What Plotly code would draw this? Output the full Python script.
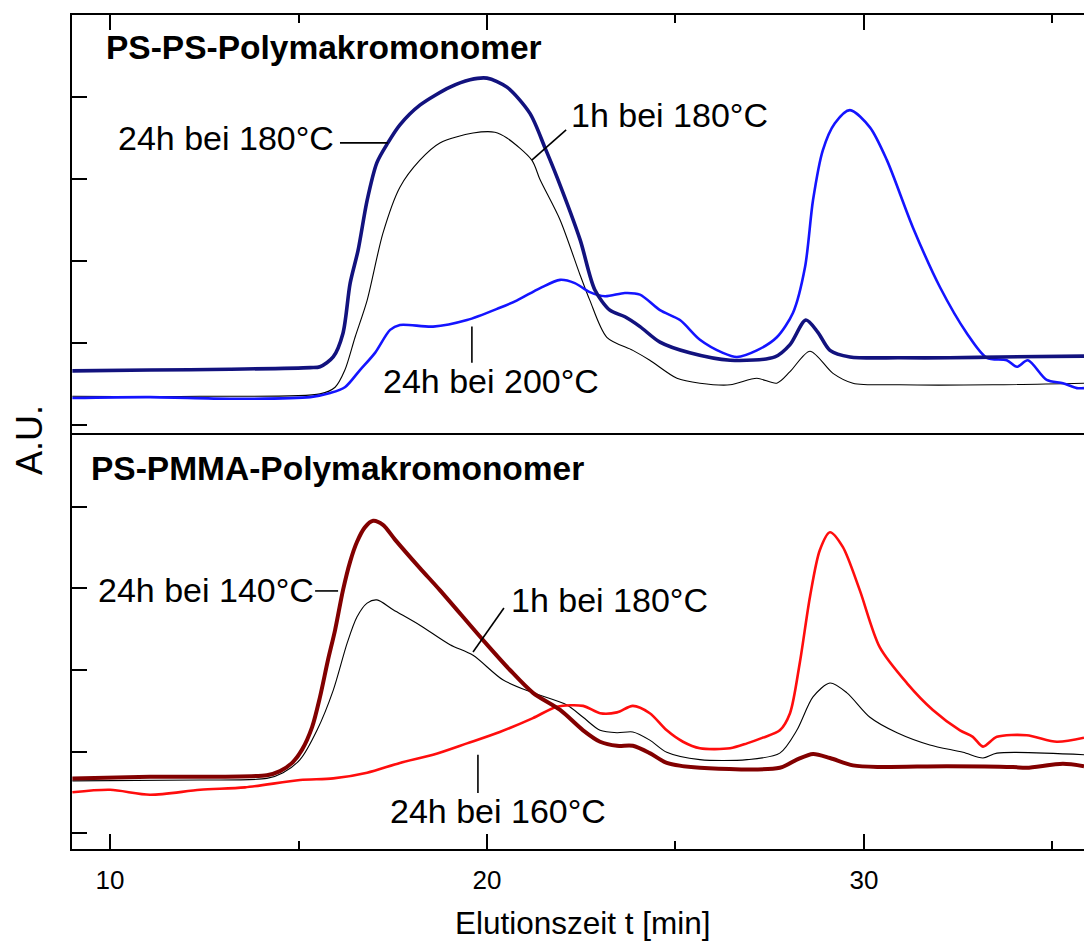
import plotly.graph_objects as go

# ---------------- data ----------------
# Upper panel: PS-PS-Polymakromonomer
ps_24h180_t = [9.0, 11.06, 13.18, 15.31, 15.57, 15.92, 16.18, 16.37, 16.58, 16.82, 17.08, 17.37, 17.69,
               18.22, 19.02, 19.55, 20.0, 20.53, 21.14, 21.54, 21.86, 22.47, 22.86, 23.26, 23.66,
               24.06, 24.59, 25.38, 26.45, 27.64, 28.04, 28.46, 28.78, 29.10, 29.63, 30.95, 32.28, 33.61, 35.84]
ps_24h180_y = [0.66, 0.67, 0.68, 0.70, 0.71, 0.83, 1.12, 1.73, 2.13, 2.74, 3.20, 3.44, 3.66,
               3.90, 4.12, 4.21, 4.23, 4.12, 3.80, 3.38, 3.02, 2.26, 1.65, 1.40, 1.32,
               1.20, 1.01, 0.88, 0.79, 0.83, 0.98, 1.28, 1.13, 0.91, 0.83, 0.82, 0.82, 0.83, 0.84]

ps_1h180_t = [9.0, 12.39, 15.57, 15.97, 16.23, 16.50, 16.82, 17.24, 17.69, 18.22, 18.75, 19.63, 20.21,
              20.53, 21.19, 21.41, 21.94, 22.47, 22.73, 23.18, 23.87, 24.32, 25.04, 25.65, 26.45, 27.16,
              27.69, 28.04, 28.57, 29.18, 29.71, 30.95, 33.42, 35.84]
ps_1h180_y = [0.35, 0.35, 0.38, 0.46, 0.67, 1.07, 1.52, 2.34, 2.90, 3.23, 3.44, 3.56, 3.57,
              3.50, 3.23, 2.99, 2.50, 1.83, 1.52, 1.07, 0.91, 0.79, 0.57, 0.51, 0.49, 0.57,
              0.51, 0.65, 0.90, 0.63, 0.51, 0.49, 0.49, 0.51]

ps_24h200_t = [9.0, 11.06, 13.18, 15.31, 15.84, 16.23, 16.63, 17.03, 17.43, 17.69, 18.57, 19.47, 20.34,
               20.80, 21.41, 21.94, 22.33, 22.73, 23.13, 23.66, 24.06, 24.59, 25.12, 25.65, 26.26, 26.63,
               27.16, 27.69, 28.12, 28.44, 28.65, 28.91, 29.23, 29.63, 30.16, 30.61, 31.30, 32.02, 32.73,
               33.26, 33.79, 34.06, 34.35, 34.85, 35.28, 35.65, 35.84]
ps_24h200_y = [0.33, 0.34, 0.32, 0.34, 0.39, 0.46, 0.67, 0.88, 1.16, 1.22, 1.20, 1.28, 1.43,
               1.52, 1.67, 1.77, 1.73, 1.62, 1.57, 1.61, 1.59, 1.40, 1.28, 1.04, 0.88, 0.83,
               0.91, 1.07, 1.37, 1.93, 2.74, 3.35, 3.68, 3.84, 3.63, 3.23, 2.41, 1.68, 1.12,
               0.82, 0.79, 0.71, 0.79, 0.55, 0.51, 0.45, 0.45]

# Lower panel: PS-PMMA-Polymakromonomer
pm_24h140_t = [9.0, 11.06, 14.16, 14.51, 14.83, 15.09, 15.36, 15.57, 15.78, 15.97, 16.18, 16.37, 16.55,
               16.76, 16.98, 17.24, 17.56, 18.22, 18.75, 19.89, 20.61, 21.22, 21.94, 22.55, 23.0, 23.45,
               23.87, 24.32, 24.77, 25.65, 27.77, 28.22, 28.65, 29.10, 29.71, 30.42, 32.20, 33.95, 34.32,
               35.28, 35.84]
pm_24h140_y = [0.67, 0.69, 0.71, 0.76, 0.86, 1.02, 1.30, 1.67, 2.12, 2.49, 2.98, 3.33, 3.57,
               3.75, 3.83, 3.78, 3.60, 3.25, 2.98, 2.37, 2.00, 1.72, 1.51, 1.26, 1.12, 1.07,
               1.07, 0.98, 0.86, 0.80, 0.80, 0.90, 0.97, 0.92, 0.83, 0.81, 0.82, 0.81, 0.80,
               0.85, 0.82]

pm_1h180_t = [9.0, 12.39, 14.16, 14.59, 15.04, 15.49, 15.92, 16.29, 16.55, 16.82, 17.08, 17.51, 18.22,
              19.02, 19.63, 20.42, 21.22, 22.12, 22.55, 23.0, 23.45, 23.87, 24.32, 24.77, 25.65, 26.90,
              27.77, 28.22, 28.65, 29.10, 29.55, 30.16, 30.88, 31.75, 32.63, 33.16, 33.53, 35.84]
pm_1h180_y = [0.64, 0.65, 0.67, 0.74, 0.90, 1.26, 1.75, 2.33, 2.65, 2.82, 2.86, 2.74, 2.55,
              2.31, 2.18, 1.88, 1.72, 1.57, 1.42, 1.26, 1.23, 1.24, 1.14, 0.99, 0.90, 0.90,
              0.98, 1.26, 1.67, 1.84, 1.72, 1.42, 1.23, 1.08, 0.99, 0.92, 0.98, 0.96]

pm_24h160_t = [9.0, 10.0, 11.06, 12.39, 13.58, 15.04, 15.92, 16.82, 17.69, 18.57, 19.47, 20.34, 21.22,
               21.86, 22.55, 23.0, 23.45, 23.87, 24.32, 24.77, 25.20, 25.65, 26.45, 26.90, 27.32, 27.77,
               28.04, 28.30, 28.57, 28.83, 29.10, 29.44, 29.89, 30.42, 31.14, 31.83, 32.55, 32.89, 33.16,
               33.53, 34.32, 35.12, 35.84]
pm_24h160_y = [0.50, 0.53, 0.47, 0.53, 0.56, 0.65, 0.67, 0.74, 0.86, 0.96, 1.10, 1.24, 1.41,
               1.55, 1.56, 1.47, 1.48, 1.56, 1.47, 1.26, 1.12, 1.04, 1.04, 1.10, 1.17, 1.26,
               1.47, 2.09, 2.90, 3.47, 3.69, 3.51, 2.98, 2.28, 1.84, 1.51, 1.26, 1.18, 1.06,
               1.18, 1.20, 1.12, 1.17]

x_tickvals = [10, 20, 30]
x_ticktext = ["10", "20", "30"]
y_tickvals = [0, 1, 2, 3, 4]

# ---------------- figure ----------------
FONT = "Liberation Sans, Arial, sans-serif"
fig = go.Figure()

def add(t, y, color, width, xa, ya):
    fig.add_trace(go.Scatter(x=t, y=y, mode="lines", xaxis=xa, yaxis=ya,
                             line=dict(color=color, width=width, shape="spline", smoothing=0.8),
                             showlegend=False, hoverinfo="skip"))

add(ps_1h180_t, ps_1h180_y, "#000000", 1.1, "x", "y")
add(ps_24h200_t, ps_24h200_y, "#1414ff", 2.6, "x", "y")
add(ps_24h180_t, ps_24h180_y, "#12127e", 3.6, "x", "y")

add(pm_1h180_t, pm_1h180_y, "#000000", 1.1, "x2", "y2")
add(pm_24h160_t, pm_24h160_y, "#ff0d0d", 2.6, "x2", "y2")
add(pm_24h140_t, pm_24h140_y, "#820000", 4.0, "x2", "y2")

split = 0.4964
xcommon = dict(range=[8.99, 35.84], showgrid=False, zeroline=False, showline=True,
               linecolor="black", linewidth=2, ticks="inside", ticklen=15, tickwidth=2,
               tickcolor="black", tickvals=x_tickvals, ticktext=x_ticktext,
               minor=dict(dtick=5, tick0=5, ticks="inside", ticklen=8, tickwidth=2, tickcolor="black"))
ycommon = dict(showgrid=False, zeroline=False, showline=True, linecolor="black", linewidth=2,
               ticks="inside", ticklen=15, tickwidth=2, tickcolor="black",
               tickvals=y_tickvals, showticklabels=False)

fig.update_layout(
    width=1084, height=943,
    margin=dict(l=72, r=0, t=15, b=94),
    paper_bgcolor="white", plot_bgcolor="white",
    font=dict(family=FONT, color="black"),
    xaxis=dict(**xcommon, anchor="y", side="top", showticklabels=False),
    yaxis=dict(**ycommon, domain=[split, 1], range=[-0.122, 5.0], anchor="x"),
    xaxis2=dict(**xcommon, anchor="y2", side="bottom", matches="x", mirror=True,
                tickfont=dict(size=26, family=FONT), ticklabelstandoff=7),
    yaxis2=dict(**ycommon, domain=[0, split], range=[-0.196, 4.883], anchor="x2"),
)

ann = []
# panel titles
ann.append(dict(text="<b>PS-PS-Polymakromonomer</b>", xref="paper", yref="paper",
                x=(104 - 72) / 1012, y=(849 - 48) / 834, xanchor="left", yanchor="middle",
                showarrow=False, font=dict(size=33.5, family=FONT)))
ann.append(dict(text="<b>PS-PMMA-Polymakromonomer</b>", xref="paper", yref="paper",
                x=(89 - 72) / 1012, y=(849 - 469) / 834, xanchor="left", yanchor="middle",
                showarrow=False, font=dict(size=33.5, family=FONT)))
# axis titles
ann.append(dict(text="A.U.", xref="paper", yref="paper", x=(30 - 72) / 1012, y=(849 - 440) / 834,
                textangle=-90, showarrow=False, xanchor="center", yanchor="middle",
                font=dict(size=36, family=FONT)))
ann.append(dict(text="Elutionszeit t [min]", xref="paper", yref="paper", x=(583 - 72) / 1012,
                y=(849 - 923) / 834, showarrow=False, xanchor="center", yanchor="middle",
                font=dict(size=31.5, family=FONT)))

labels = [
    ("24h bei 180°C", 13.08, 3.50, "x", "y"),
    ("1h bei 180°C", 24.85, 3.78, "x", "y"),
    ("24h bei 200°C", 20.11, 0.54, "x", "y"),
    ("24h bei 140°C", 12.55, 2.98, "x2", "y2"),
    ("1h bei 180°C", 23.26, 2.86, "x2", "y2"),
    ("24h bei 160°C", 20.29, 0.27, "x2", "y2"),
]
for txt, xv, yv, xr, yr in labels:
    ann.append(dict(text=txt, x=xv, y=yv, xref=xr, yref=yr, showarrow=False,
                    xanchor="center", yanchor="middle", font=dict(size=34, family=FONT)))
fig.update_layout(annotations=ann)

leaders = [
    (16.10, 3.44, 17.37, 3.44, "x", "y"),
    (22.10, 3.60, 21.19, 3.23, "x", "y"),
    (19.60, 1.20, 19.60, 0.76, "x", "y"),
    (15.44, 2.97, 16.05, 2.97, "x2", "y2"),
    (20.45, 2.76, 19.63, 2.22, "x2", "y2"),
    (19.76, 0.96, 19.76, 0.49, "x2", "y2"),
]
shapes = []
for x0, y0, x1, y1, xr, yr in leaders:
    shapes.append(dict(type="line", x0=x0, y0=y0, x1=x1, y1=y1, xref=xr, yref=yr,
                       line=dict(color="black", width=1.6)))
fig.update_layout(shapes=shapes)

fig.write_html("out.html")
